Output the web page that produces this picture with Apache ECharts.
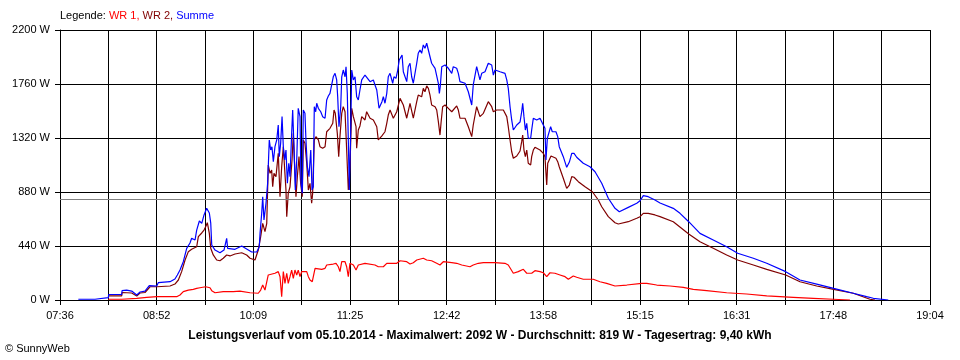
<!DOCTYPE html>
<html>
<head>
<meta charset="utf-8">
<script src="https://cdn.jsdelivr.net/npm/echarts@6/dist/echarts.min.js"></script>
<style>html,body{margin:0;padding:0;background:#fff}#c{width:960px;height:360px}</style>
</head>
<body>
<div id="c"></div>
<script>
// Time in minutes since midnight, values in W
const START_MIN = 456;   // 07:36
const END_MIN = 1144;    // 19:04
const X_DIVISIONS = 18;
const Y_MAX = 2200;
const Y_STEP = 440;
const AVERAGE_W = 819;

const wr1 = [[494.2,6],[504.8,6],[505.1,19],[516.7,14],[524.6,22],[532.7,27],[548.3,27],[550.9,41],[553.5,68],[557.5,81],[561.4,87],[564.1,95],[566.7,100],[571.2,108],[574.6,100],[576.0,76],[578.6,59],[585.1,68],[593.0,68],[598.3,73],[606.3,59],[612.8,55],[614.7,81],[616.3,122],[618.1,81],[620.7,204],[622.1,218],[626.0,218],[628.6,231],[630.0,190],[631.3,27],[632.6,231],[633.9,136],[635.3,218],[636.5,136],[637.9,190],[639.2,244],[640.5,177],[641.8,244],[643.2,204],[644.4,244],[645.8,190],[647.1,231],[648.4,244],[651.1,231],[652.4,190],[653.7,163],[655.5,149],[656.9,149],[657.7,258],[663.0,250],[665.6,258],[666.9,285],[672.1,293],[674.3,299],[676.1,271],[677.4,231],[678.8,312],[681.4,312],[682.7,271],[684.0,190],[685.3,299],[686.7,312],[688.0,285],[690.1,244],[691.9,285],[697.2,299],[705.1,285],[707.7,271],[711.7,271],[714.4,299],[722.3,299],[724.9,320],[730.2,312],[732.8,293],[735.4,304],[738.1,326],[743.3,340],[746.0,326],[749.9,320],[753.9,299],[756.5,285],[759.1,312],[765.8,304],[769.7,299],[773.7,285],[780.2,271],[782.8,285],[786.8,299],[790.8,304],[800.0,304],[807.9,299],[810.5,285],[814.5,218],[818.4,231],[822.4,250],[825.1,218],[829.0,218],[831.6,239],[835.6,231],[838.2,222],[840.9,190],[843.5,222],[847.4,218],[851.4,204],[855.4,190],[858.0,169],[861.9,196],[864.6,185],[869.8,169],[877.7,169],[883.0,149],[888.3,136],[894.9,114],[904.2,122],[916.0,136],[920.0,136],[927.9,122],[938.4,114],[948.9,103],[956.8,87],[967.4,76],[983.2,59],[999.0,49],[1014.9,33],[1035.9,22],[1051.7,14],[1067.5,6],[1080.7,0]];

const wr2 = [[494.2,33],[504.8,33],[505.1,61],[512.7,57],[516.7,33],[519.3,57],[523.2,61],[527.2,108],[532.7,108],[543.0,114],[546.9,130],[549.6,163],[552.2,231],[554.9,326],[557.5,394],[560.1,413],[561.4,407],[564.1,434],[565.4,516],[568.1,546],[569.9,570],[571.2,597],[572.5,630],[574.1,543],[575.2,421],[577.2,367],[579.9,326],[582.5,320],[585.1,340],[587.8,367],[590.4,359],[594.4,375],[599.7,385],[603.6,367],[606.3,340],[610.2,326],[612.8,407],[614.7,516],[616.3,625],[618.1,557],[619.5,625],[620.7,1100],[622.1,1032],[623.4,1059],[624.2,923],[625.2,1032],[626.8,1005],[628.6,1195],[630.0,842],[631.3,1086],[632.6,1249],[633.7,1059],[634.7,896],[635.3,679],[636.5,869],[637.9,923],[639.5,1141],[640.5,1358],[641.6,1086],[642.6,842],[643.7,1005],[645.0,1168],[646.3,951],[647.6,842],[648.4,1304],[649.7,1277],[651.1,1114],[652.4,896],[653.7,951],[655.0,788],[655.8,869],[657.1,1304],[658.4,1331],[660.3,1304],[661.6,1249],[663.7,1236],[665.6,1249],[666.9,1371],[669.5,1399],[671.7,1440],[672.7,1548],[673.7,1521],[675.3,1358],[676.4,1168],[677.4,1331],[678.8,1521],[680.0,1575],[681.4,1534],[682.7,1222],[684.0,896],[685.3,1086],[686.7,1562],[688.0,1494],[690.1,1412],[690.6,1236],[691.9,1385],[693.2,1418],[694.6,1494],[697.2,1467],[698.5,1534],[701.2,1481],[703.8,1467],[705.1,1481],[706.5,1412],[707.7,1304],[710.4,1336],[713.0,1371],[714.4,1440],[715.6,1507],[717.0,1548],[719.6,1481],[722.3,1534],[723.5,1548],[724.9,1643],[726.2,1656],[727.5,1589],[730.2,1481],[732.8,1603],[735.4,1481],[738.1,1616],[739.3,1670],[742.0,1656],[743.3,1725],[744.6,1697],[746.0,1744],[747.3,1725],[748.6,1670],[749.9,1589],[752.6,1575],[753.9,1548],[755.2,1453],[756.5,1344],[757.3,1440],[758.6,1575],[760.5,1589],[763.1,1562],[765.8,1534],[769.7,1581],[771.0,1548],[772.3,1481],[776.3,1481],[778.9,1412],[780.2,1399],[781.6,1331],[782.8,1426],[785.5,1575],[788.1,1494],[790.8,1521],[794.7,1616],[797.4,1575],[798.7,1534],[801.3,1548],[806.6,1548],[809.3,1494],[810.5,1412],[811.9,1304],[813.2,1208],[814.5,1155],[817.2,1173],[819.8,1214],[821.1,1290],[821.9,1344],[822.9,1222],[824.0,1168],[825.1,1222],[826.3,1114],[828.2,1100],[829.0,1168],[830.3,1222],[831.6,1244],[835.6,1222],[838.2,1195],[839.5,1168],[840.9,937],[841.7,1114],[844.3,1173],[848.2,1155],[849.6,1127],[850.8,1086],[854.0,992],[856.7,910],[858.8,937],[860.7,1005],[862.5,1000],[865.9,964],[871.2,923],[877.0,882],[881.7,815],[884.4,760],[889.6,679],[894.9,630],[897.5,619],[905.4,638],[912.1,666],[914.7,679],[917.3,706],[921.2,706],[926.5,693],[930.5,679],[941.0,638],[953.2,538],[962.1,475],[972.6,421],[983.2,367],[991.9,326],[1004.3,285],[1014.9,250],[1029.9,204],[1041.2,149],[1054.4,114],[1067.8,87],[1083.3,55],[1096.5,6],[1100.5,0]];

const summe = [[470.5,6],[483.7,6],[484.0,19],[494.2,19],[494.5,45],[504.8,45],[505.1,76],[508.7,81],[512.7,73],[516.7,41],[519.3,65],[523.2,73],[526.6,117],[532.5,114],[533.7,141],[543.0,149],[546.9,171],[548.8,204],[550.9,244],[553.5,312],[556.2,421],[558.8,464],[560.1,503],[562.8,489],[564.1,570],[566.2,644],[568.1,625],[569.9,693],[572.0,747],[574.1,709],[575.2,627],[576.0,448],[578.6,407],[582.5,385],[585.7,407],[587.8,503],[588.6,421],[594.4,413],[599.7,440],[603.6,416],[607.6,391],[611.6,391],[613.6,434],[614.2,543],[615.5,706],[616.3,842],[617.3,652],[618.9,788],[620.2,951],[621.5,1304],[622.6,1222],[623.6,1249],[624.7,1127],[626.0,1249],[627.4,1304],[628.6,1426],[629.4,1168],[630.5,1277],[631.6,1494],[632.6,1249],[633.7,1141],[634.7,1222],[635.8,951],[636.9,1114],[637.9,1005],[639.2,1358],[640.0,1548],[641.1,1222],[642.1,896],[643.2,1141],[644.4,1562],[645.8,1494],[646.6,951],[647.6,869],[648.4,1548],[649.7,1521],[650.5,1304],[651.6,1086],[652.9,1005],[654.3,1222],[655.3,896],[656.3,923],[657.1,1575],[658.2,1534],[659.0,1603],[660.3,1562],[662.2,1534],[663.7,1494],[665.6,1481],[666.9,1630],[668.2,1662],[669.5,1684],[670.9,1689],[672.1,1819],[673.5,1847],[674.8,1793],[675.6,1656],[676.6,1412],[678.0,1575],[678.8,1819],[680.0,1874],[681.4,1819],[682.2,1901],[683.2,1684],[684.0,1304],[684.8,896],[685.9,1385],[686.7,1874],[688.0,1793],[689.3,1819],[690.6,1656],[691.9,1630],[693.2,1711],[694.6,1793],[697.2,1833],[698.5,1841],[701.2,1779],[703.8,1793],[705.1,1752],[706.5,1711],[708.3,1562],[710.6,1616],[711.7,1656],[713.0,1603],[714.4,1684],[715.6,1819],[717.0,1847],[719.1,1766],[720.1,1819],[721.7,1806],[723.1,1874],[724.3,1956],[726.5,1996],[727.5,1860],[730.2,1779],[731.4,1901],[732.8,1929],[734.1,1819],[735.4,1766],[738.1,1929],[739.3,2010],[740.7,2037],[742.0,2010],[743.3,2078],[744.6,2051],[746.0,2092],[747.3,2037],[748.6,1982],[749.9,1929],[752.6,1888],[753.9,1874],[755.2,1766],[756.0,1684],[756.7,1738],[757.9,1901],[760.5,1915],[763.1,1888],[765.8,1847],[767.0,1901],[769.7,1888],[771.0,1847],[772.3,1779],[776.3,1766],[778.9,1697],[780.2,1711],[781.6,1589],[782.8,1752],[785.5,1901],[788.1,1793],[789.5,1847],[792.1,1860],[794.7,1929],[797.4,1915],[798.7,1833],[800.0,1874],[804.0,1860],[807.9,1847],[809.3,1793],[810.5,1725],[811.9,1575],[813.2,1467],[814.5,1385],[817.2,1426],[819.8,1450],[821.1,1534],[821.9,1603],[822.9,1494],[824.0,1385],[825.1,1440],[826.3,1318],[828.2,1318],[829.0,1385],[830.3,1481],[833.0,1467],[835.6,1481],[838.2,1426],[839.5,1399],[840.3,1141],[841.4,1318],[844.0,1412],[845.3,1371],[848.2,1371],[849.6,1331],[850.8,1249],[854.0,1168],[856.7,1081],[858.8,1124],[860.7,1195],[862.5,1195],[864.6,1163],[869.8,1114],[875.1,1086],[879.1,1045],[884.4,951],[889.6,829],[894.9,747],[898.3,719],[905.4,755],[912.1,788],[914.7,809],[917.3,850],[921.2,842],[926.5,815],[930.5,790],[941.0,747],[946.3,706],[953.2,638],[962.1,543],[972.6,489],[983.2,434],[991.9,381],[1004.3,340],[1014.9,299],[1029.9,231],[1041.2,163],[1054.4,130],[1067.8,95],[1083.3,55],[1093.9,27],[1099.2,14],[1111.0,0]];

const legendLabels = ['WR 1', 'WR 2', 'Summe'];
const bottomTitle = 'Leistungsverlauf vom 05.10.2014 - Maximalwert: 2092 W - Durchschnitt: 819 W - Tagesertrag: 9,40 kWh';
const copyright = '\u00A9 SunnyWeb';

const FONT = "'Liberation Sans', Arial, sans-serif";
const SPAN = END_MIN - START_MIN;
const X_STEP = SPAN / X_DIVISIONS;
const toAxis = arr => arr.map(p => [p[0] - START_MIN, p[1]]);

function fmtTime(v) {
  const k = Math.round(v / X_STEP);
  if (k % 2 !== 0) return '';
  const m = Math.round(START_MIN + v);
  const hh = Math.floor(m / 60), mm = m % 60;
  return (hh < 10 ? '0' : '') + hh + ':' + (mm < 10 ? '0' : '') + mm;
}

const chart = echarts.init(document.getElementById('c'), null, {renderer: 'canvas'});
const lineSeries = (name, data, color, z) => ({
  name, type: 'line', data: toAxis(data), showSymbol: false, symbol: 'none',
  lineStyle: {color, width: 1.2}, itemStyle: {color}, z, animation: false, silent: true
});

chart.setOption({
  backgroundColor: '#ffffff',
  animation: false,
  title: [
    {
      text: '{k|Legende: }{a|' + legendLabels[0] + ', }{b|' + legendLabels[1] + ', }{c|' + legendLabels[2] + '}',
      left: 60, top: 10, padding: 0,
      textStyle: {
        fontFamily: FONT, fontSize: 11, fontWeight: 'normal',
        rich: {
          k: {color: '#000000', fontFamily: FONT, fontSize: 11},
          a: {color: '#ff0000', fontFamily: FONT, fontSize: 11},
          b: {color: '#800000', fontFamily: FONT, fontSize: 11},
          c: {color: '#0000ff', fontFamily: FONT, fontSize: 11}
        }
      }
    },
    {
      text: bottomTitle, left: 'center', top: 330, padding: 0,
      textStyle: {fontFamily: FONT, fontSize: 12, fontWeight: 'bold', color: '#000'}
    },
    {
      text: copyright, left: 5, top: 343, padding: 0,
      textStyle: {fontFamily: FONT, fontSize: 11, fontWeight: 'normal', color: '#000'}
    }
  ],
  grid: {left: 60, right: 30, top: 30, bottom: 60, containLabel: false},
  xAxis: {
    type: 'value', min: 0, max: SPAN, interval: X_STEP,
    axisLine: {show: true, lineStyle: {color: '#000', width: 1}},
    axisTick: {show: true, length: 5, lineStyle: {color: '#000', width: 1}},
    splitLine: {show: true, lineStyle: {color: '#000', width: 1}},
    axisLabel: {formatter: fmtTime, color: '#000', fontFamily: FONT, fontSize: 11, margin: 10, showMinLabel: true, showMaxLabel: true, hideOverlap: false}
  },
  yAxis: {
    type: 'value', min: 0, max: Y_MAX, interval: Y_STEP,
    axisLine: {show: true, lineStyle: {color: '#000', width: 1}},
    axisTick: {show: true, length: 5, lineStyle: {color: '#000', width: 1}},
    splitLine: {show: true, lineStyle: {color: '#000', width: 1}},
    axisLabel: {formatter: v => v + ' W', color: '#000', fontFamily: FONT, fontSize: 11, margin: 10}
  },
  series: [
    lineSeries('WR 1', wr1, '#ff0000', 3),
    lineSeries('WR 2', wr2, '#800000', 4),
    Object.assign(lineSeries('Summe', summe, '#0000ff', 5), {
      markLine: {
        silent: true, symbol: ['none', 'none'], label: {show: false},
        lineStyle: {color: '#808080', width: 1, type: 'solid'},
        data: [{yAxis: AVERAGE_W}], animation: false
      }
    })
  ]
});
</script>
</body>
</html>
